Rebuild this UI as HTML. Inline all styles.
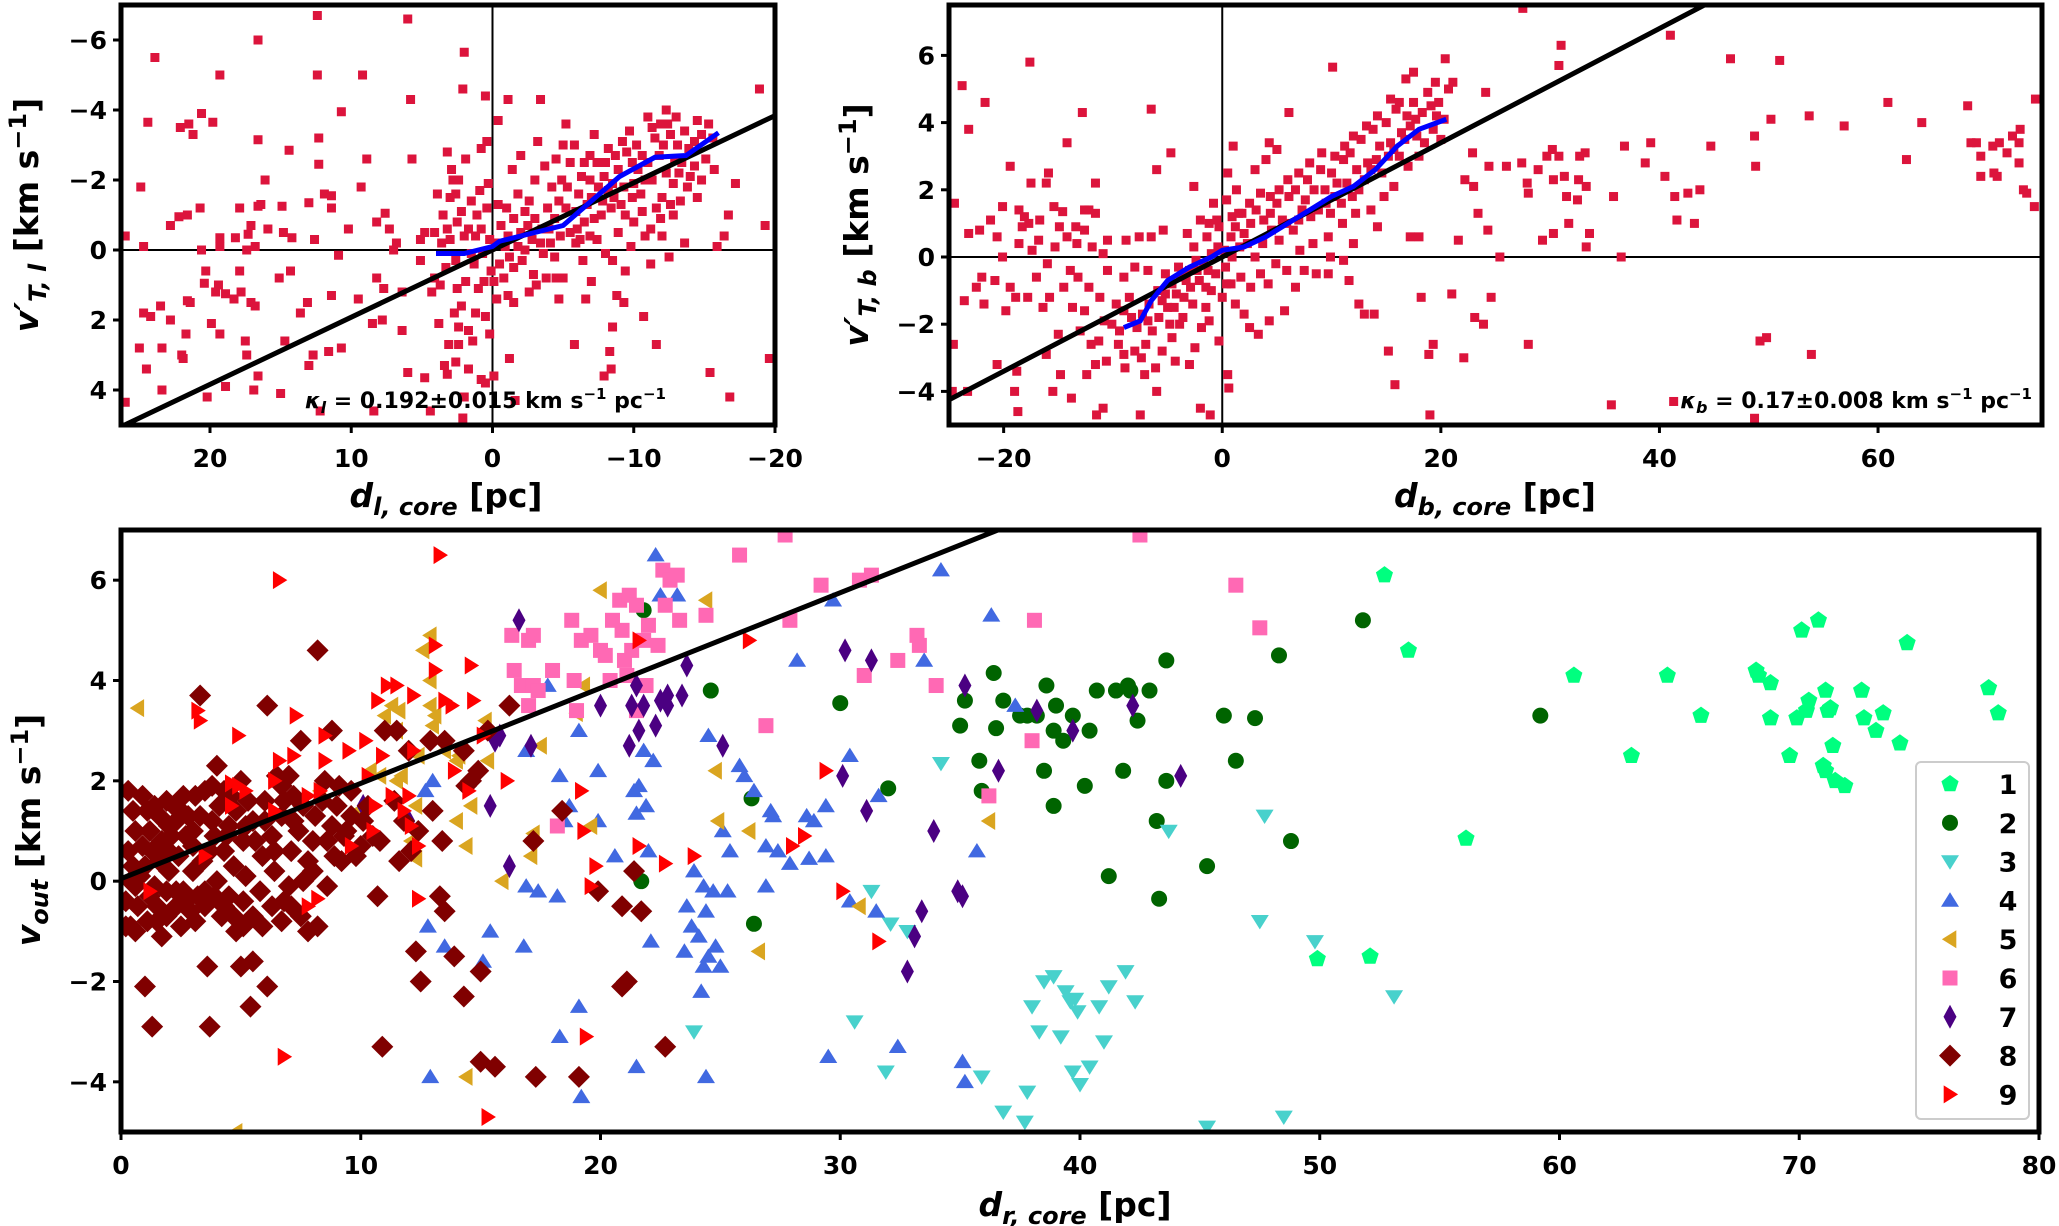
<!DOCTYPE html>
<html><head><meta charset="utf-8"><style>
html,body{margin:0;padding:0;background:#fff;}
svg{display:block;font-family:"DejaVu Sans","Liberation Sans",sans-serif;font-weight:bold;}
</style></head><body>
<svg id="fig" width="2059" height="1226" viewBox="0 0 2059 1226" xmlns="http://www.w3.org/2000/svg">
<rect width="2059" height="1226" fill="#fff"/>
<g id="pA"></g>
<g id="pB"></g>
<g id="pC"></g>
</svg>
<script>
// ---- Panel A data (d_l,core, v'_T,l)
const aPoints = [[12.4,-6.7],[6,-6.6],[16.6,-6.0],[23.9,-5.5],[19.3,-5.0],[12.4,-5.0],[9.2,-5.0],[2.0,-5.65],[2.1,-4.6],[5.8,-4.3],[10.7,-3.95],[20.6,-3.9],[19.8,-3.65],[24.4,-3.65],[22.1,-3.5],[21.2,-3.3],[21.5,-3.6],[16.6,-3.15],[12.3,-3.2],[14.4,-2.85],[8.9,-2.6],[5.7,-2.6],[24.9,-1.8],[16.1,-2.0],[9.3,-1.8],[12.3,-2.45],[11.9,-1.6],[11.4,-1.55],[13.0,-1.35],[14.9,-1.25],[16.4,-1.3],[16.6,-1.25],[17.9,-1.2],[20.7,-1.2],[21.6,-1.0],[22.2,-0.95],[22.8,-0.7],[15.9,-0.6],[14.8,-0.5],[17.1,-0.7],[17.3,-0.45],[19.3,-0.35],[18.2,-0.35],[26,-0.4],[24.7,-0.1],[20.6,0.0],[19.3,-0.1],[17.4,0.0],[16.8,-0.1],[14.2,-0.35],[12.6,-0.3],[11.4,-1.2],[10.2,-0.6],[8.2,-0.8],[7.3,-0.6],[7.6,-1.05],[6.8,-0.2],[5.1,-0.3],[3.0,-0.3],[10.9,0.15],[7.0,0.0],[17.9,0.6],[20.3,0.6],[20.4,0.95],[19.4,1.0],[19.6,1.2],[18.9,1.25],[17.8,1.2],[18.3,1.4],[17.1,1.5],[16.8,1.6],[21.4,1.5],[21.6,1.45],[24.7,1.8],[23.5,1.6],[24.2,1.9],[14.3,0.6],[15.1,0.8],[13.1,1.5],[13.6,1.8],[11.4,1.3],[9.5,1.4],[8.2,0.8],[7.7,1.1],[6.4,1.2],[22.8,2.0],[21.7,2.4],[19.3,2.4],[19.9,2.1],[17.5,2.6],[14.7,2.6],[12.7,3.0],[11.6,2.9],[10.7,2.8],[7.8,2.0],[8.5,2.1],[6.4,2.3],[21.9,3.1],[22.0,3.0],[25.0,2.8],[23.4,2.8],[17.4,3.0],[16.6,3.6],[24.5,3.4],[13.0,3.3],[6.0,3.5],[4.8,3.65],[3.2,3.55],[2.6,3.2],[16.9,4.0],[18.9,3.9],[15.0,4.1],[23.4,4.0],[20.2,4.2],[26.0,4.35],[12.2,4.6],[8.4,4.6],[4.4,4.6],[2.1,4.8],
[3.5,-1.0],[3.0,-1.5],[2.8,-2.0],[3.2,-0.6],[2.5,-0.8],[2.2,-1.1],[1.5,-1.4],[1.7,-0.6],[1.2,-0.4],[0.8,-0.6],[0.4,-1.2],[0.3,-1.9],[0.5,-4.4],[0.4,-3.1],[0.8,-2.9],[-0.4,-3.7],[-1.1,-4.3],[-3.4,-4.3],[-3.2,-3.1],[-5.2,-3.6],[-5.5,-2.5],[-6.5,-2.5],[-6.9,-2.7],[-7.2,-3.3],[-4.2,-1.8],[-4.9,-2.0],[-5.3,-1.8],[-6.3,-2.1],[-6.9,-2.0],[-7.5,-1.8],[-8.2,-1.7],[-8.5,-1.9],[-8.9,-2.3],[-7.9,-2.1],[-8.2,-2.9],[-9.5,-2.8],[-9.9,-2.5],[-10.3,-2.3],[-10.8,-2.0],[-11.5,-3.2],[-11.3,-3.5],[-11.9,-3.6],[-12.4,-3.6],[-12.6,-3.3],[-13.1,-3.0],[-13.6,-3.4],[-14.5,-3.7],[-12.1,-3.0],[-12.9,-2.6],[-13.4,-2.5],[-14.3,-2.4],[-15.1,-2.6],[-15.6,-3.2],[-15.3,-3.6],[-14.0,-2.1],[-13.8,-1.8],[-12.0,-1.5],[-11.6,-1.2],[-11.3,-2.0],[-10.5,-1.6],[-9.9,-1.5],[-9.1,-1.3],[-8.4,-1.2],[-7.7,-1.0],[-7.2,-0.9],[-6.5,-0.8],[-5.9,-1.1],[-5.5,-0.5],[-4.8,-0.4],[-4.4,-0.9],[-3.9,-1.2],[-3.5,-0.6],[-2.8,-0.3],[-2.3,-1.1],[-2.0,-0.5],[-1.5,-0.9],[-1.1,-0.4],[-0.6,-0.7],[-0.2,-0.2],[0.7,0.1],[1.3,0.4],[1.9,0.9],[2.5,1.1],[2.7,1.8],[1.7,2.3],[0.5,1.9],[-0.3,1.4],[-0.8,0.8],[-1.5,0.5],[-2.1,0.3],[-2.9,0.7],[-3.6,0.1],[-4.4,0.2],[-5.0,0.8],[-5.9,-0.2],[-6.4,0.3],[-7.0,0.9],[-6.9,-0.4],[-8.5,0.3],[-8.9,-0.5],[-9.4,-1.0],[-10.0,-0.8],[-10.8,-0.4],[-11.2,-0.6],[-12.5,0.2],[-13.6,-0.2],[-15.9,-0.1],[-16.7,-1.0],[-17.2,-1.9],[-16.4,-0.4],[-18.9,-4.6],[-19.3,-0.7],[-19.6,3.1],[-16.8,4.2],[-15.4,3.5],[-12.0,-0.4],[-11.6,2.7],[-10.7,1.9],[-9.3,1.5],[-8.8,1.3],[-8.5,2.2],[-8.3,2.9],[-8.4,3.4],[-7.9,3.6],[-5.8,2.7],[-4.5,0.8],[-3.8,0.8],[-3.1,1.0],[-1.5,1.5],[-1.1,1.3],[-1.2,3.1],[-1.6,4.3],[-0.1,3.6],[0.5,3.8],[0.8,3.7],[1.7,3.4],[2.0,4.2],[2.4,2.7],[3.1,2.7],[3.4,3.3],[2.2,1.6],[1.2,1.8],[3.7,1.0],[4.1,0.8],[4.3,1.2],[4.1,-0.5],[3.9,-1.6],[2.4,-2.0],[2.9,-2.3],[4.8,-0.5],[5.1,0.3]];
const aPointsExtra = [[-1.0,-1.2],[-1.8,-1.6],[-2.6,-1.4],[-3.0,-2.0],[-3.7,-2.4],[-4.5,-2.6],[-5.0,-3.0],[-5.8,-3.0],[-6.1,-1.6],[-6.7,-1.3],[-7.4,-2.5],[-8.0,-2.5],[-8.7,-2.7],[-9.2,-3.1],[-9.7,-3.4],[-10.2,-3.0],[-10.6,-2.7],[-11.0,-2.5],[-11.8,-2.7],[-12.3,-2.2],[-12.8,-1.9],[-13.2,-2.2],[-13.9,-2.9],[-14.3,-3.1],[-14.8,-2.0],[-10.0,-1.9],[-9.3,-1.8],[-8.6,-1.5],[-7.8,-1.4],[-7.0,-1.5],[-6.0,-0.6],[-5.2,-1.2],[-4.7,-1.4],[-4.0,-0.6],[-3.4,-0.2],[-2.5,-0.7],[-1.8,-0.1],[-1.2,0.2],[-0.5,0.4],[0.1,0.6],[0.6,0.9],[1.0,1.1],[-0.9,-0.1],[-2.3,0.0],[-3.0,-0.9],[-4.1,-0.2],[-6.2,-0.3],[-7.4,-0.3],[-8.0,0.1],[-9.8,-0.1],[-10.6,-1.1],[-11.9,-0.9],[-12.8,-1.0],[-13.3,-1.4],[-12.3,-4.0],[-13.0,-3.8],[-11.0,-3.8],[-14.8,-3.3],[-15.7,-2.3],[1.5,0.1],[2.0,-0.4],[2.6,0.3],[3.3,0.5],[0.2,-0.3],[-0.4,-1.3],[-1.4,-2.3],[-2.0,-2.7],[0.9,-1.7],[1.9,-2.6],[2.6,-1.6],[3.6,-0.2],[1.1,-1.0],[-0.1,0.9],[-2.6,1.2],[-4.7,1.4],[-6.6,1.4],[-12.6,-1.3],[-14.5,-1.5],[-9.4,0.6],[-11.2,0.4],[2.4,2.2],[3.8,2.1],[1.4,2.6],[0.2,2.4],[3.2,-2.8]];
const aTrendX = [4,2,0,-0.5,-3,-5,-7,-9,-11.5,-13.7,-16];
const aTrendY = [0.1,0.1,-0.1,-0.25,-0.5,-0.7,-1.4,-2.1,-2.65,-2.7,-3.35];
const aSlope = 0.192;
const aXTicks = [20,10,0,-10,-20];
const aYTicks = [-6,-4,-2,0,2,4];

// ---- Panel B data (d_b,core, v'_T,b)
const bPoints = [[27.5,7.4],[41,6.6],[31,6.3],[30.8,5.7],[46.5,5.9],[51,5.85],[20.4,5.9],[10.1,5.65],[-17.6,5.8],[-23.8,5.1],[-21.7,4.6],[-12.8,4.3],[-6.5,4.4],[-23.2,3.8],[-14.2,3.4],[-4.7,3.1],[-19.4,2.7],[-15.9,2.5],[-6.0,2.6],[-17.5,2.2],[-16.1,2.2],[-11.6,2.2],[-2.6,2.1],[-24.5,1.6],[-18.6,1.4],[-15.4,1.5],[-14.6,1.35],[-12.6,1.4],[-12.2,1.4],[-11.6,1.3],[-18.1,1.2],[-16.7,1.1],[-17.7,1.0],[-14.9,0.9],[-13.4,0.9],[-12.6,0.8],[-10.5,0.5],[-8.8,0.5],[-7.6,0.6],[-6.5,0.6],[-5.4,0.8],[-3.2,0.7],[-23.2,0.7],[-22.2,0.8],[-20.6,0.6],[-18.6,0.4],[-17.4,0.2],[-16.8,0.5],[-15.3,0.3],[-14.2,0.6],[-13.3,0.4],[-11.9,0.3],[-10.9,0.1],[-20.1,0.0],[-22.0,-0.6],[-20.8,-0.7],[-19.4,-0.9],[-17.8,-1.2],[-15.8,-1.2],[-14.5,-0.9],[-13.2,-0.6],[-12.2,-0.9],[-10.5,-0.4],[-9.0,-0.6],[-8.0,-0.3],[-6.8,-0.4],[-5.2,-0.5],[-4.0,-0.3],[-3.3,-0.7],[-2.3,-0.4],[-1.5,-0.9],[-0.6,-0.5],[-23.6,-1.3],[-22.5,-0.9],[-21.8,-1.4],[-19.8,-1.6],[-18.9,-1.2],[-16.4,-1.5],[-15.0,-2.3],[-13.7,-1.5],[-13.0,-2.2],[-12.0,-2.6],[-11.3,-2.5],[-10.8,-1.9],[-10.1,-2.0],[-9.4,-2.2],[-9.0,-1.6],[-8.0,-2.8],[-7.4,-3.0],[-7.0,-2.6],[-6.4,-2.2],[-5.8,-1.8],[-5.0,-1.5],[-4.2,-1.1],[-3.6,-1.8],[-2.7,-1.4],[-1.9,-2.1],[-1.0,-1.0],[-0.3,-2.5],[-4.6,-2.4],[-6.1,-3.3],[-8.9,-3.3],[-9.5,-2.6],[-12.4,-3.5],[-14.8,-3.5],[-15.5,-4.0],[-16.1,-2.9],[-18.8,-3.4],[-19.0,-4.0],[-20.6,-3.2],[-24.6,-2.6],[-24.7,-4.0],[-23.3,-4.0],[-18.7,-4.6],[-13.8,-4.2],[-11.5,-4.7],[-10.9,-4.5],[-7.5,-4.7],[-6.0,-4.0],[-3.9,-2.0],[-2.0,-4.5],[0.5,-3.5],[0.6,-3.9],[-1.1,-4.7],[-3.0,-3.2],[-4.3,-3.1],[-7.8,-2.1],[-5.2,-1.1],
[0.2,0.2],[0.8,0.6],[1.2,0.9],[1.5,1.3],[2.0,0.7],[2.6,1.0],[3.1,1.4],[3.8,1.1],[4.5,0.8],[5.0,1.6],[5.5,1.1],[6.1,1.8],[6.7,2.0],[7.3,1.4],[7.8,2.3],[8.4,2.0],[9.0,2.6],[9.5,1.6],[10.0,2.5],[10.5,2.2],[11.1,2.9],[11.7,3.1],[12.3,2.6],[12.7,3.5],[13.3,2.8],[13.8,3.8],[14.4,3.3],[15.0,4.0],[15.4,3.4],[15.9,4.4],[16.4,3.7],[16.9,4.2],[17.5,4.6],[17.8,3.6],[18.3,4.3],[18.8,4.9],[19.3,3.8],[19.8,4.6],[20.3,4.1],[20.7,5.0],[21.1,5.2],[16.8,5.3],[17.5,5.5],[19.5,5.2],[18.0,3.0],[17.0,2.7],[15.7,2.1],[14.8,1.8],[13.6,1.4],[12.2,1.3],[11.0,1.0],[9.7,0.6],[8.3,0.4],[7.1,0.2],[5.9,-0.4],[4.9,-0.2],[3.5,-0.5],[2.6,-0.9],[1.7,-0.6],[0.8,-0.8],[1.2,-1.4],[2.0,-1.7],[2.5,-2.1],[3.3,-2.3],[4.3,-1.9],[5.7,-1.6],[7.5,-0.4],[8.6,-0.5],[9.7,-0.5],[11.1,-0.1],[11.6,-0.7],[13.9,-1.7],[13.0,-1.7],[15.2,-2.8],[15.8,-3.8],[18.9,-2.9],[19.0,-4.7],[21.0,-1.1],[22.1,-3.0],[23.1,-1.8],[23.9,-2.0],[24.6,-1.2],[21.6,0.5],[23.4,1.3],[24.3,0.8],[25.4,0.0],[22.2,2.3],[23.0,2.1],[24.4,2.7],[22.9,3.1],[24.1,4.9],[26.0,2.7],[27.4,2.8],[27.9,2.2],[28.0,1.9],[28.9,2.6],[29.7,3.0],[30.2,3.2],[30.8,3.0],[30.3,2.3],[31.3,2.4],[31.5,1.8],[32.7,3.0],[33.2,3.1],[32.6,2.3],[33.3,2.1],[32.5,1.7],[29.3,0.5],[30.3,0.7],[31.7,1.0],[33.3,0.3],[33.6,0.7],[35.8,1.8],[36.5,0.0],[36.8,3.3],[38.7,2.8],[39.2,3.4],[40.5,2.4],[41.4,1.8],[42.6,1.9],[43.7,2.0],[41.6,1.1],[43.2,1.0],[44.7,3.3],[48.8,2.7],[48.7,3.6],[50.2,4.1],[49.8,-2.4],[49.2,-2.5],[53.9,-2.9],[53.7,4.2],[56.9,3.9],[60.9,4.6],[62.6,2.9],[64.0,4.0],[68.5,3.4],[68.2,4.5],[69.0,3.4],[69.4,3.0],[70.5,3.3],[71.1,3.4],[71.8,3.1],[72.3,3.6],[72.9,2.8],[70.6,2.5],[69.4,2.4],[70.9,2.4],[73.3,2.0],[73.6,1.9],[74.3,1.5],[73.0,3.8],[72.9,3.4],[74.4,4.7],[48.7,-4.8],[41.3,-4.3],[35.6,-4.4],[28.0,-2.6],[19.3,-2.6],[18.2,-1.2],[17.2,0.6],[18.0,0.6],[12.5,-1.4],[-0.8,1.6],[-0.3,0.9],[-1.4,0.6],[-2.0,1.1],[-2.6,0.3],[0.4,1.7],[1.3,2.0],[3.0,2.6],[4.0,2.9],[5.0,3.2],[6.1,4.3],[4.3,3.4],[1.0,3.3],[0.5,2.5],[-1.3,-0.4],[-2.9,-0.9],[-4.6,-0.8],[-5.5,-1.3],[-1.5,-1.5]];
const bPointsExtra = [[-0.4,0.3],[-1.0,0.1],[-1.7,-0.2],[-2.4,-0.1],[-3.0,-0.4],[-3.8,-0.6],[-4.4,-1.5],[-5.9,-1.0],[-6.7,-1.4],[-7.3,-1.7],[-8.5,-1.2],[-9.7,-1.4],[-11.2,-1.2],[-12.6,-1.6],[-13.9,-0.4],[-16.0,-0.2],[-17.0,-0.6],[-18.3,0.9],[-20.1,1.5],[-21.2,1.1],[0.3,-0.3],[0.9,0.0],[1.6,0.3],[2.3,0.4],[3.0,0.0],[3.7,0.4],[4.4,1.3],[5.2,0.5],[5.9,1.0],[6.5,0.8],[7.0,1.1],[7.6,1.7],[8.1,1.2],[8.8,1.4],[9.4,2.0],[9.9,1.3],[10.3,1.8],[10.9,1.6],[11.4,2.2],[11.9,1.8],[12.5,2.0],[13.0,2.3],[13.6,2.6],[14.1,2.9],[14.6,2.5],[15.2,3.0],[15.7,3.2],[16.2,3.0],[16.7,3.5],[17.2,3.9],[17.7,4.1],[18.5,3.4],[19.1,4.5],[19.6,4.2],[20.0,3.5],[16.2,4.6],[15.4,4.7],[14.2,4.2],[13.2,3.9],[12.0,3.6],[11.2,3.3],[10.3,3.0],[9.1,3.1],[8.0,2.8],[7.0,2.5],[6.0,2.3],[5.2,2.0],[4.4,1.8],[3.5,1.9],[2.5,1.6],[1.8,1.3],[0.9,1.2],[-0.5,1.1],[-1.2,1.0],[-2.1,-0.7],[-3.5,-1.2],[-4.8,-2.0],[-6.8,-1.9],[-8.3,-1.8],[-5.5,-2.8],[-7.1,-3.5],[-9.0,-2.9],[-10.6,-3.1],[-11.6,-3.2],[-2.5,-2.7],[-1.2,-1.9],[0.0,-1.2],[0.4,-0.8],[6.7,-0.9],[4.2,-0.8],[9.9,0.0],[12.0,0.4],[14.2,0.9]];
const bTrendX = [-9,-7.5,-6.5,-5,-3,-1,0,2,4,6,8,10,12,14,16,18,20.5];
const bTrendY = [-2.1,-1.9,-1.3,-0.7,-0.3,0,0.2,0.3,0.6,1.0,1.4,1.8,2.1,2.6,3.3,3.8,4.1];
const bSlope = 0.17;
const bXTicks = [-20,0,20,40,60];
const bYTicks = [-4,-2,0,2,4,6];

// ---- Panel C data (d_r,core, v_out) per group
const cGroup1 = [[52.7,6.1],[53.7,4.6],[56.1,0.85],[49.9,-1.55],[52.1,-1.5],[60.6,4.1],[63,2.5],[64.5,4.1],[65.9,3.3],[68.2,4.2],[68.3,4.1],[68.8,3.95],[68.8,3.25],[69.6,2.5],[69.9,3.25],[70.1,5.0],[70.3,3.4],[70.4,3.6],[70.8,5.2],[71.1,3.8],[71.2,3.4],[71.3,3.45],[71.1,2.2],[71.4,2.7],[71.5,2.0],[71.9,1.9],[72.6,3.8],[72.7,3.25],[73.2,3.0],[73.5,3.35],[74.2,2.75],[74.5,4.75],[77.9,3.85],[78.3,3.35],[71.0,2.3]];
const cGroup2 = [[21.8,5.4],[24.6,3.8],[21.7,0.0],[26.3,1.65],[26.4,-0.85],[30,3.55],[32,1.85],[35,3.1],[35.2,3.6],[35.8,2.4],[35.9,1.8],[36.4,4.15],[36.5,3.05],[36.8,3.6],[37.5,3.3],[37.8,3.3],[38.2,3.3],[38.5,2.2],[38.6,3.9],[38.9,3.0],[38.9,1.5],[39,3.5],[39.3,2.8],[39.7,3.3],[40.2,1.9],[40.4,3.0],[40.7,3.8],[41.2,0.1],[41.5,3.8],[41.8,2.2],[42,3.9],[42.4,3.2],[42.9,3.8],[43.3,-0.35],[43.2,1.2],[43.6,2.0],[43.6,4.4],[45.3,0.3],[46,3.3],[46.5,2.4],[47.3,3.25],[48.3,4.5],[48.8,0.8],[51.8,5.2],[59.2,3.3],[42.1,3.8]];
const cGroup3 = [[23.9,-3.0],[31.3,-0.2],[32.1,-0.85],[32.8,-1.0],[34.2,2.35],[30.6,-2.8],[31.9,-3.8],[35.9,-3.9],[36.8,-4.6],[37.8,-4.2],[38.0,-2.5],[38.3,-3.0],[38.9,-1.9],[38.5,-2.0],[39.2,-3.1],[39.4,-2.2],[39.6,-2.4],[39.8,-2.35],[39.7,-3.8],[40,-4.05],[40.4,-3.7],[40.8,-2.5],[41.0,-3.2],[41.9,-1.8],[42.3,-2.4],[43.7,1.0],[47.7,1.3],[47.5,-0.8],[49.8,-1.2],[53.1,-2.3],[45.3,-4.9],[48.5,-4.7],[37.7,-4.8],[41.2,-2.1],[39.9,-2.6]];
const cGroup4 = [[22.3,6.5],[22.5,5.7],[23.2,5.7],[29.7,5.6],[34.2,6.2],[36.3,5.3],[28.2,4.4],[33.5,4.4],[37.3,3.5],[17.8,3.9],[16.9,2.6],[18.3,2.1],[19.1,3.0],[19.9,2.2],[21.8,2.6],[22.2,2.4],[21.6,1.9],[21.4,1.8],[21.9,1.5],[24.5,2.9],[26,2.1],[26.4,1.8],[27.1,1.4],[27.2,1.3],[28.6,1.3],[28.9,1.2],[29.4,1.5],[31.6,1.7],[30.4,2.5],[25.8,2.3],[12.7,1.8],[13.0,2.0],[18.7,1.5],[18.5,1.2],[19.9,1.2],[21.5,1.35],[22,0.6],[25.4,0.6],[25.1,1.0],[26.9,0.7],[27.4,0.6],[27.9,0.35],[28.7,0.45],[29.4,0.5],[23.9,0.2],[24.3,-0.1],[24.7,-0.2],[25.3,-0.2],[26.9,-0.1],[20.6,0.5],[18.2,-0.3],[16.9,-0.1],[17.4,-0.2],[22.1,-1.2],[23.6,-0.5],[24.4,-0.6],[24.8,-1.3],[23.8,-0.9],[24.1,-1.1],[24.5,-1.5],[25.0,-1.7],[23.5,-1.4],[24.3,-1.7],[24.2,-2.2],[19.1,-2.5],[15.4,-1.0],[15.1,-1.6],[16.8,-1.3],[12.8,-0.9],[13.5,-1.3],[12.9,-3.9],[18.3,-3.1],[19.2,-4.3],[21.5,-3.7],[24.4,-3.9],[29.5,-3.5],[32.4,-3.3],[35.1,-3.6],[35.2,-4.0],[30.4,-0.4],[31.5,-0.6],[35.7,0.6]];
const cGroup5 = [[0.7,3.45],[12.6,4.6],[12.9,4.9],[12.9,4.0],[11,3.3],[11.3,3.5],[11.6,3.4],[12.9,3.5],[13.1,3.3],[14.1,2.5],[14,1.2],[14.6,1.5],[11.7,2.1],[11.5,2.0],[10.4,2.2],[10.8,2.1],[12.3,1.5],[12.1,0.8],[12.3,0.45],[15.3,2.4],[13.5,2.6],[19.0,3.35],[19.3,3.9],[17.5,2.7],[20,5.8],[24.4,5.6],[24.8,2.2],[24.9,1.2],[26.2,1.0],[14.4,0.7],[17.2,0.95],[17.1,0.5],[15.9,0],[26.6,-1.4],[30.8,-0.5],[14.4,-3.9],[4.8,-5.0],[19.6,1.1],[36.2,1.2],[9.9,1.4],[8.3,1.8],[11.5,3.0],[13.0,3.1],[15.2,3.2],[14.0,2.4],[12.4,2.5]];
const cGroup6 = [[16.3,4.9],[16.4,4.2],[16.7,3.9],[17.0,4.8],[17.2,4.9],[17.2,3.9],[17.0,3.5],[17.4,3.8],[18.8,5.2],[18.9,4.0],[19.2,4.8],[19.0,3.4],[19.6,4.9],[20,4.6],[20.2,4.5],[20.8,5.6],[20.9,5.0],[21.2,5.7],[21.5,5.5],[21.8,4.8],[21.3,4.6],[22.6,6.2],[22.9,6.0],[23.2,6.1],[22.7,5.5],[23.3,5.2],[22.4,4.7],[21.9,3.9],[21.1,4.1],[24.4,5.3],[25.8,6.5],[26.9,3.1],[27.9,5.2],[27.7,6.9],[29.2,5.9],[30.8,6.0],[31.3,6.1],[32.4,4.4],[31.0,4.1],[33.2,4.9],[34.0,3.9],[36.2,1.7],[38.1,5.2],[38.0,2.8],[42.5,6.9],[46.5,5.9],[47.5,5.05],[18.2,1.1],[21.5,3.4],[33.3,4.7],[20.5,5.2],[21.0,4.4],[22.0,5.1],[20.4,4.0],[18.0,4.2]];
const cGroup7 = [[16.6,5.2],[15.4,1.5],[16.2,0.3],[17.1,2.7],[20,3.5],[21.2,2.7],[21.3,3.5],[21.5,3.9],[21.6,3.0],[21.8,3.5],[22.3,3.1],[22.5,3.6],[22.8,3.5],[22.8,3.7],[23.6,4.3],[25.1,2.7],[30.1,2.1],[31.1,1.4],[12.0,1.2],[15.6,2.8],[15.8,2.9],[10.1,1.5],[30.2,4.6],[35.2,3.9],[33.4,-0.6],[34.9,-0.2],[31.3,4.4],[36.6,2.2],[38.2,3.4],[39.7,3.0],[42.2,3.5],[44.2,2.1],[33.9,1.0],[33.1,-1.1],[32.8,-1.8],[35.1,-0.3],[23.4,3.7]];
const cGroup8 = [[0.3,1.8],[0.2,-0.4],[0.4,-0.9],[0.6,-1.0],[1.0,-2.1],[1.3,-2.9],[1.1,1.4],[1.4,1.5],[1.6,1.3],[1.9,1.6],[2.2,1.5],[2.5,1.4],[2.8,1.3],[3.1,1.7],[3.3,3.7],[3.5,1.8],[3.8,1.9],[4.0,2.3],[4.3,1.8],[4.6,1.7],[5.0,2.0],[5.3,1.6],[6.1,3.5],[6.5,2.1],[6.7,1.9],[7.0,2.1],[7.5,2.8],[8.2,4.6],[8.8,3.0],[8.5,2.0],[9.1,1.9],[9.6,1.8],[10.1,1.2],[10.5,0.9],[11.0,3.0],[11.5,3.0],[12.0,2.6],[12.9,2.8],[13.5,2.8],[14.3,2.6],[14.6,2.0],[13.0,1.4],[13.4,0.8],[12.1,0.6],[11.6,0.4],[10.7,-0.3],[9.3,0.9],[8.9,0.5],[8.6,-0.1],[8.2,-0.9],[7.8,-1.0],[6.8,-0.4],[6.1,-2.1],[5.5,-1.6],[5.4,-2.5],[5.1,-0.9],[5.0,-1.7],[4.8,-1.0],[4.2,-0.7],[3.6,-1.7],[3.7,-2.9],[3.2,-0.3],[2.9,-0.6],[2.6,-0.2],[2.3,-0.5],[1.9,-0.2],[1.7,-1.1],[1.5,-0.8],[1.2,-0.3],[0.8,0.1],[0.5,0.3],[0.9,0.7],[1.3,0.6],[1.7,0.8],[2.1,0.9],[2.4,0.5],[2.7,0.9],[3.0,0.7],[3.4,0.4],[3.9,0.9],[4.3,0.6],[4.7,0.3],[5.1,0.8],[5.5,1.2],[5.9,0.5],[6.3,0.9],[6.7,1.3],[7.1,0.6],[7.4,1.0],[7.8,0.4],[8.1,1.3],[8.6,0.8],[9.0,1.5],[9.4,1.0],[9.8,0.5],[10.3,1.5],[10.8,0.8],[11.4,1.6],[11.8,1.2],[12.4,1.0],[0.6,1.0],[1.0,0.3],[1.4,-0.1],[2.0,0.2],[2.5,-0.9],[3.0,0.2],[3.5,-0.2],[4.0,0.0],[4.5,-0.3],[5.2,0.1],[5.8,-0.2],[6.4,0.2],[7.0,-0.1],[7.6,0.0],[8.0,0.2],[3.8,1.2],[4.5,1.1],[2.0,1.1],[6.0,1.6],[7.2,1.7],[16.2,3.5],[17.2,0.8],[18.4,1.4],[14.4,1.9],[13.5,-0.6],[13.3,-0.3],[12.5,-2.0],[12.3,-1.4],[10.9,-3.3],[13.9,-1.5],[14.3,-2.3],[15.0,-1.8],[15.0,-3.6],[15.6,-3.7],[17.3,-3.9],[19.1,-3.9],[20.9,-2.1],[21.1,-2.0],[22.7,-3.3],[19.9,-0.2],[20.9,-0.5],[21.7,-0.6],[21.4,0.2],[15.3,3.0],[14.9,2.2],
[0.5,1.4],[0.9,1.7],[1.2,1.0],[1.6,0.4],[2.0,0.6],[2.3,1.2],[2.6,1.7],[3.0,1.0],[3.3,1.3],[3.7,0.6],[4.1,1.5],[4.4,0.9],[4.8,1.4],[5.2,1.1],[5.6,0.8],[6.0,1.2],[6.4,0.6],[6.8,1.6],[7.2,1.2],[7.6,1.5],[8.0,0.8],[8.4,1.6],[8.8,1.1],[9.2,0.4],[9.6,1.3],[10.0,0.7],[0.7,-0.5],[1.1,-0.8],[1.5,-0.5],[1.9,-0.7],[2.3,-0.2],[2.7,-0.4],[3.1,-0.8],[3.5,-0.5],[3.9,-0.3],[4.3,-0.5],[4.7,-0.7],[5.1,-0.4],[5.5,-0.7],[5.9,-0.9],[6.3,-0.5],[6.7,-0.8],[7.1,-0.5],[7.5,-0.7],[0.3,0.6],[0.4,0.0],[0.2,-0.9],[0.6,-0.1]];
const cGroup9 = [[6.6,6.0],[13.3,6.5],[13.1,4.7],[14.6,4.3],[13.1,4.2],[3.2,3.4],[3.3,3.2],[7.3,3.3],[4.9,2.9],[10.7,3.6],[11.1,3.9],[11.5,3.9],[12.2,3.7],[14.7,3.6],[13.5,3.6],[13.8,3.5],[6.6,2.4],[7.2,2.5],[8.5,2.9],[8.5,2.4],[9.5,2.6],[10.2,2.8],[10.9,2.5],[10.3,2.1],[12.2,2.6],[15.1,2.9],[16.1,2.0],[13.9,2.2],[14.5,1.8],[4.6,1.95],[4.9,1.9],[5.2,1.8],[6.4,1.4],[6.4,2.0],[7.8,1.7],[8.3,1.8],[10.6,1.5],[11.3,1.7],[12.0,1.7],[11.8,1.4],[12.1,1.1],[10.5,1.0],[9.6,0.7],[3.5,0.5],[12.4,0.7],[21.6,0.7],[19.8,0.3],[19.3,1.0],[22.7,0.35],[23.9,0.5],[19.2,1.8],[19.6,-0.1],[19.4,-3.1],[15.3,-4.7],[6.8,-3.5],[7.8,-0.5],[8.2,-0.35],[12.4,-0.35],[29.4,2.2],[28.5,0.9],[28.0,0.7],[30.1,-0.2],[26.2,4.8],[21.6,4.8],[31.6,-1.2],[4.6,1.5],[1.2,-0.2]];
const cLabels = ["1","2","3","4","5","6","7","8","9"];
const cSlope = 0.19;
const cIntercept = 0.05;
const cXTicks = [0,10,20,30,40,50,60,70,80];
const cYTicks = [-4,-2,0,2,4,6];

const NS = "http://www.w3.org/2000/svg";
function mk(tag, attrs, parent){const e=document.createElementNS(NS,tag);for(const k in attrs)e.setAttribute(k,attrs[k]);parent.appendChild(e);return e;}
function lin(d0,d1,r0,r1){return v=>r0+(v-d0)/(d1-d0)*(r1-r0);}
function fmt(v){return v<0?"\u2212"+(-v):String(v);}

function axesFrame(g,L,R,T,B,sx,sy,xt,yt,prefix){
  const clipId=prefix+"-clip";
  const cp=mk("clipPath",{id:clipId},g);mk("rect",{x:L,y:T,width:R-L,height:B-T},cp);
  const plot=mk("g",{"clip-path":"url(#"+clipId+")"},g);
  
  
  xt.forEach(v=>{const x=sx(v);
    const t=mk("line",{x1:x,x2:x,y1:B,y2:B+8,stroke:"#000","stroke-width":3},g);
    
    
    const lb=mk("text",{x:x,y:B+42,"text-anchor":"middle","font-size":25},g);lb.textContent=fmt(v);
    
    
  });
  yt.forEach(v=>{const y=sy(v);
    const t=mk("line",{x1:L-8,x2:L,y1:y,y2:y,stroke:"#000","stroke-width":3},g);
    
    
    const lb=mk("text",{x:L-14,y:y+9,"text-anchor":"end","font-size":25},g);lb.textContent=fmt(v);
    
    
  });
  return plot;
}
function spines(g,L,R,T,B){
  const r=mk("rect",{x:L,y:T,width:R-L,height:B-T,fill:"none",stroke:"#000","stroke-width":5},g);
  
  
}
function sq(plot,x,y){
  const r=mk("rect",{x:x-4.5,y:y-4.5,width:9,height:9,fill:"#dc143c"},plot);
  
  
}

// ---------- Panel A
(function(){
  const g=document.getElementById("pA");
  const L=121,R=775,T=5,B=425;
  const sx=lin(26.3,-20,L,R), sy=lin(-7,5,T,B);
  const plot=axesFrame(g,L,R,T,B,sx,sy,aXTicks,aYTicks,"panel-a");
  let e=mk("line",{x1:sx(0),x2:sx(0),y1:T,y2:B,stroke:"#000","stroke-width":2},plot);
  
  
  e=mk("line",{x1:L,x2:R,y1:sy(0),y2:sy(0),stroke:"#000","stroke-width":2},plot);
  
  
  aPoints.concat(aPointsExtra).forEach(p=>sq(plot,sx(p[0]),sy(p[1])));
  e=mk("line",{x1:sx(27),y1:sy(27*aSlope),x2:sx(-21),y2:sy(-21*aSlope),stroke:"#000","stroke-width":5},plot);
  
  
  e=mk("polyline",{points:aTrendX.map((x,i)=>sx(x)+","+sy(aTrendY[i])).join(" "),fill:"none",stroke:"#0000ff","stroke-width":5},plot);
  
  
  spines(g,L,R,T,B);
  const ann=mk("text",{x:305,y:408,"font-size":22},g);
  ann.innerHTML='<tspan font-style="italic">κ</tspan><tspan font-style="italic" font-size="16" dy="5">l</tspan><tspan dy="-5"> = 0.192±0.015 km s</tspan><tspan font-size="15" dy="-9">−1</tspan><tspan dy="9"> pc</tspan><tspan font-size="15" dy="-9">−1</tspan>';
  
  
  const xl=mk("text",{x:446,y:507,"text-anchor":"middle","font-size":33},g);
  xl.innerHTML='<tspan font-style="italic">d</tspan><tspan font-style="italic" font-size="24" dy="8">l, core</tspan><tspan dy="-8"> [pc]</tspan>';
  
  
  const yl=mk("text",{x:0,y:0,"text-anchor":"middle","font-size":33,transform:"translate(38,215) rotate(-90)"},g);
  yl.innerHTML='<tspan font-style="italic">v′</tspan><tspan font-style="italic" font-size="24" dy="8">T, l</tspan><tspan dy="-8"> [km s</tspan><tspan font-size="24" dy="-12">−1</tspan><tspan dy="12">]</tspan>';
  
  
})();

// ---------- Panel B
(function(){
  const g=document.getElementById("pB");
  const L=949,R=2042,T=5,B=425;
  const sx=lin(-25,75,L,R), sy=lin(7.5,-5,T,B);
  const plot=axesFrame(g,L,R,T,B,sx,sy,bXTicks,bYTicks,"panel-b");
  let e=mk("line",{x1:sx(0),x2:sx(0),y1:T,y2:B,stroke:"#000","stroke-width":2},plot);
  
  
  e=mk("line",{x1:L,x2:R,y1:sy(0),y2:sy(0),stroke:"#000","stroke-width":2},plot);
  
  
  bPoints.concat(bPointsExtra).forEach(p=>sq(plot,sx(p[0]),sy(p[1])));
  e=mk("line",{x1:sx(-26),y1:sy(-26*bSlope),x2:sx(50),y2:sy(50*bSlope),stroke:"#000","stroke-width":5},plot);
  
  
  e=mk("polyline",{points:bTrendX.map((x,i)=>sx(x)+","+sy(bTrendY[i])).join(" "),fill:"none",stroke:"#0000ff","stroke-width":5},plot);
  
  
  spines(g,L,R,T,B);
  const ann=mk("text",{x:2032,y:408,"font-size":22,"text-anchor":"end"},g);
  ann.innerHTML='<tspan font-style="italic">κ</tspan><tspan font-style="italic" font-size="16" dy="5">b</tspan><tspan dy="-5"> = 0.17±0.008 km s</tspan><tspan font-size="15" dy="-9">−1</tspan><tspan dy="9"> pc</tspan><tspan font-size="15" dy="-9">−1</tspan>';
  
  
  const xl=mk("text",{x:1495,y:507,"text-anchor":"middle","font-size":33},g);
  xl.innerHTML='<tspan font-style="italic">d</tspan><tspan font-style="italic" font-size="24" dy="8">b, core</tspan><tspan dy="-8"> [pc]</tspan>';
  
  
  const yl=mk("text",{x:0,y:0,"text-anchor":"middle","font-size":33,transform:"translate(868,225) rotate(-90)"},g);
  yl.innerHTML='<tspan font-style="italic">v′</tspan><tspan font-style="italic" font-size="24" dy="8">T, b</tspan><tspan dy="-8"> [km s</tspan><tspan font-size="24" dy="-12">−1</tspan><tspan dy="12">]</tspan>';
  
  
})();

// ---------- Panel C
const cColors=["#00ff7f","#006400","#48d1cc","#4169e1","#daa520","#ff69b4","#4b0082","#800000","#ff0000"];
const cShapes=["pent","circle","down","up","left","square","thindiamond","diamond","right"];
function marker(shape,x,y,color,parent){
  const s=9;let e;
  switch(shape){
    case "pent":{let pts=[];for(let k=0;k<5;k++){const a=-Math.PI/2+k*2*Math.PI/5;pts.push((x+s*Math.cos(a)).toFixed(1)+","+(y+s*Math.sin(a)).toFixed(1));}
      e=mk("polygon",{points:pts.join(" "),fill:color},parent);break;}
    case "circle": e=mk("circle",{cx:x,cy:y,r:8,fill:color},parent);break;
    case "down": e=mk("polygon",{points:`${x-s},${y-s*0.7} ${x+s},${y-s*0.7} ${x},${y+s*0.9}`,fill:color},parent);break;
    case "up": e=mk("polygon",{points:`${x-s},${y+s*0.7} ${x+s},${y+s*0.7} ${x},${y-s*0.9}`,fill:color},parent);break;
    case "left": e=mk("polygon",{points:`${x+s*0.7},${y-s} ${x+s*0.7},${y+s} ${x-s*0.9},${y}`,fill:color},parent);break;
    case "right": e=mk("polygon",{points:`${x-s*0.7},${y-s} ${x-s*0.7},${y+s} ${x+s*0.9},${y}`,fill:color},parent);break;
    case "square": e=mk("rect",{x:x-7.5,y:y-7.5,width:15,height:15,fill:color},parent);break;
    case "thindiamond": e=mk("polygon",{points:`${x},${y-12} ${x+6.5},${y} ${x},${y+12} ${x-6.5},${y}`,fill:color},parent);break;
    case "diamond": e=mk("polygon",{points:`${x},${y-11} ${x+11},${y} ${x},${y+11} ${x-11},${y}`,fill:color},parent);break;
  }
  return e;
}
(function(){
  const g=document.getElementById("pC");
  const L=121,R=2039,T=530,B=1132;
  const sx=lin(0,80,L,R), sy=lin(7,-5,T,B);
  const plot=axesFrame(g,L,R,T,B,sx,sy,cXTicks,cYTicks,"panel-c");
  const groups=[cGroup1,cGroup2,cGroup3,cGroup4,cGroup5,cGroup6,cGroup7,cGroup8,cGroup9];
  groups.forEach((grp,gi)=>{
    const gg=mk("g",{},plot);
    
    
    grp.forEach(p=>{const m=marker(cShapes[gi],sx(p[0]),sy(p[1]),cColors[gi],gg);
      
      });
  });
  let e=mk("line",{x1:sx(0),y1:sy(cIntercept),x2:sx(40),y2:sy(cIntercept+40*cSlope),stroke:"#000","stroke-width":5},plot);
  
  
  spines(g,L,R,T,B);
  const lg=mk("g",{},g);
  
  
  mk("rect",{x:1916,y:762,width:113,height:357,rx:5,fill:"#fff","fill-opacity":0.85,stroke:"#ccc","stroke-width":2},lg);
  cLabels.forEach((lab,i)=>{
    const y=784+i*38.8;
    const it=mk("g",{},lg);
    
    
    marker(cShapes[i],1950,y,cColors[i],it);
    const t=mk("text",{x:2008,y:y+10,"text-anchor":"middle","font-size":27},it);t.textContent=lab;
  });
  const xl=mk("text",{x:1075,y:1216,"text-anchor":"middle","font-size":33},g);
  xl.innerHTML='<tspan font-style="italic">d</tspan><tspan font-style="italic" font-size="24" dy="8">r, core</tspan><tspan dy="-8"> [pc]</tspan>';
  
  
  const yl=mk("text",{x:0,y:0,"text-anchor":"middle","font-size":33,transform:"translate(40,830) rotate(-90)"},g);
  yl.innerHTML='<tspan font-style="italic">v</tspan><tspan font-style="italic" font-size="24" dy="8">out</tspan><tspan dy="-8"> [km s</tspan><tspan font-size="24" dy="-12">−1</tspan><tspan dy="12">]</tspan>';
  
  
})();
</script>
</body></html>
